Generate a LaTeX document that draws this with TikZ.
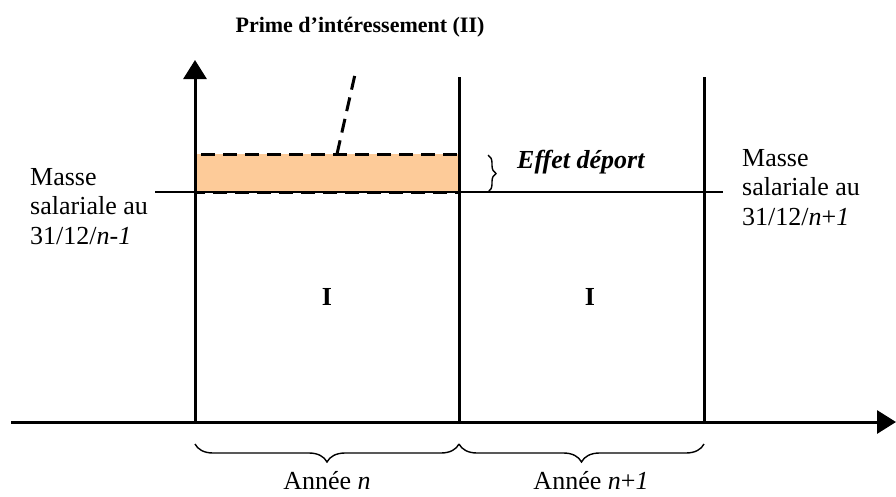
\documentclass[tikz,border=0pt]{standalone}
\usepackage{fontspec}
\setmainfont{Liberation Serif}
\usetikzlibrary{arrows.meta}
\usetikzlibrary{decorations.pathreplacing}
\definecolor{peach}{HTML}{FDCB99}

\begin{document}
\begin{tikzpicture}[x=1pt, y=-1pt,
    axis/.style={line width=3pt, -{Triangle[length=19pt, width=23pt]}},
    bar/.style={line width=3pt},
    dashbox/.style={line width=3pt, dash pattern=on 14pt off 8pt},
    txt/.style={font=\fontsize{26}{29.5}\selectfont, inner sep=0pt},
    bracket/.style={decorate, decoration={brace, amplitude=#1}, line width=1.4pt},
    bracket/.default=18pt]

    \useasboundingbox (0,0) rectangle (896,496);

    \coordinate (O) at (195,422);
    \coordinate (Xs) at (11,422);
    \coordinate (Xe) at (896,422);
    \coordinate (Ye) at (195,60);
    \coordinate (Ntop) at (459,77);
    \coordinate (Nbot) at (459,422);
    \coordinate (Mtop) at (704,77);
    \coordinate (Mbot) at (704,422);

    % prime d'interessement
    \fill[peach] (195,154) rectangle (459,192);
    \draw[line width=1.4pt] (155,192) -- (723,192);
    \draw[dashbox] (195,192) -- (195,154) -- (459,154) -- (459,192) -- cycle;
    \draw[dashbox] (337,154) -- (356,70);

    \draw[bar] (Ntop) -- (Nbot);
    \draw[bar] (Mtop) -- (Mbot);
    \draw[axis] (Xs) -- (Xe);
    \draw[axis] (O) -- (Ye);

    \node[txt, font=\fontsize{22}{26}\selectfont\bfseries, anchor=base] (title) at (360,32) {Prime d'intéressement (II)};
    \node[txt, font=\fontsize{26}{29}\selectfont\bfseries\itshape, anchor=base west] (effet) at (517,168) {Effet déport};
    \draw[bracket=8pt] (488,155) -- (488,192);

    \node[txt, align=left, anchor=north west] (massen) at (30,168) {Masse\\salariale au\\31/12/\textit{n-1}};
    \node[txt, align=left, anchor=north west] (massen1) at (742,149) {Masse\\salariale au\\31/12/\textit{n}+\textit{1}};

    \node[txt, font=\fontsize{26}{29}\selectfont\bfseries, anchor=base] (In) at (327,305) {I};
    \node[txt, font=\fontsize{26}{29}\selectfont\bfseries, anchor=base] (In1) at (590,305) {I};

    % annees
    \draw[bracket] (459,444) -- (195,444);
    \draw[bracket] (704,444) -- (459,444);
    \node[txt, anchor=base] (an) at (327,489) {Année \textit{n}};
    \node[txt, anchor=base] (an1) at (591,489) {Année \textit{n}+\textit{1}};

\end{tikzpicture}
\end{document}
